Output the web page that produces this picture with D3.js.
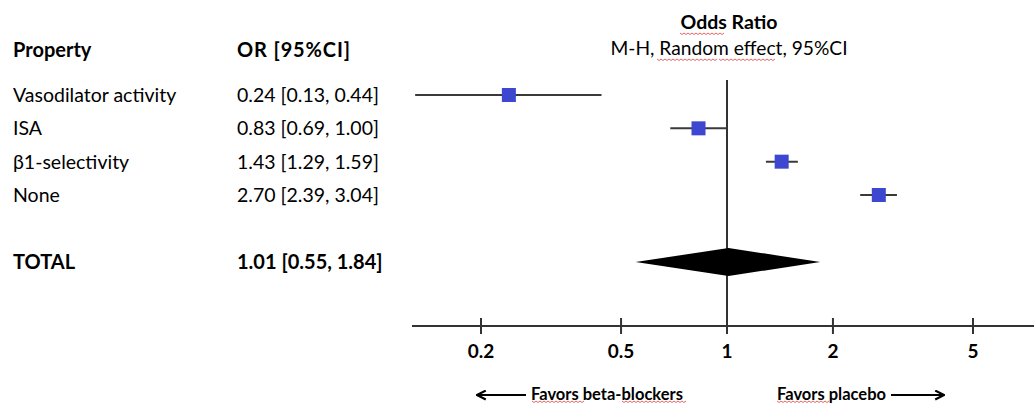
<!DOCTYPE html>
<html><head><meta charset="utf-8">
<script src="https://cdn.jsdelivr.net/npm/d3@7"></script>
<style>
body{margin:0;background:#fff;}
svg{display:block;font-family:Lato,"Open Sans",sans-serif;}
</style></head>
<body><svg id="c" width="1034" height="403"></svg>
<script>
const properties = ["Vasodilator activity","ISA","β1-selectivity","None"];
const orValues = [0.24,0.83,1.43,2.70];
const ciLow = [0.13,0.69,1.29,2.39];
const ciHigh = [0.44,1.00,1.59,3.04];
const totalLabel = "TOTAL";
const totalOR = 1.01, totalLow = 0.55, totalHigh = 1.84;
const tickValues = [0.2,0.5,1,2,5];
const tickLabels = ["0.2","0.5","1","2","5"];

const svg = d3.select("#c");
const x = d3.scaleLog().domain([0.2,5]).range([481,973]);
const rowY = d3.scalePoint().domain(properties).range([95,195]);
const totalY = 262;
const axisY = 326;
const fmt = d3.format(".2f");
const blue = "#3D47CF";
const fs = 19.5, fsb = 20;

// headers
svg.append("text").attr("x",13).attr("y",57).attr("font-size",fsb).attr("font-weight","bold").text("Property");
svg.append("text").attr("x",237).attr("y",57).attr("font-size",fsb).attr("font-weight","bold").attr("textLength",113).text("OR [95%CI]");
svg.append("text").attr("x",729).attr("y",29).attr("text-anchor","middle").attr("font-size",19.5).attr("font-weight","bold").text("Odds Ratio");
svg.append("text").attr("x",729).attr("y",55).attr("text-anchor","middle").attr("font-size",19.2).text("M-H, Random effect, 95%CI");

// spell-check squiggles
function squiggle(x0,x1,y){
  let d=`M${x0},${y}`;
  for(let xx=x0;xx<x1;xx+=4){d+=` l2,1.5 l2,-1.5`;}
  svg.append("path").attr("d",d).attr("fill","none").attr("stroke","#e04040").attr("stroke-width",0.8);
}
squiggle(680,722,33);
squiggle(657,714,59);
squiggle(719,775,59);
squiggle(532,582,401);
squiggle(622,683,401);
squiggle(777,827,401);

// row labels
properties.forEach((p,i)=>{
  const y = rowY(p);
  svg.append("text").attr("x",13).attr("y",y+7).attr("font-size",fs).text(p);
  svg.append("text").attr("x",237).attr("y",y+7).attr("font-size",fs)
    .text(`${fmt(orValues[i])} [${fmt(ciLow[i])}, ${fmt(ciHigh[i])}]`);
});
svg.append("text").attr("x",13).attr("y",totalY+7).attr("font-size",fsb).attr("font-weight","bold").text(totalLabel);
svg.append("text").attr("x",237).attr("y",totalY+7).attr("font-size",fsb).attr("font-weight","bold")
  .text(`${fmt(totalOR)} [${fmt(totalLow)}, ${fmt(totalHigh)}]`);

// reference line at 1
svg.append("line").attr("x1",x(1)).attr("x2",x(1)).attr("y1",80).attr("y2",axisY+7)
  .attr("stroke","#333").attr("stroke-width",2);

// CI lines and squares
properties.forEach((p,i)=>{
  const y = rowY(p);
  svg.append("line").attr("x1",x(ciLow[i])).attr("x2",x(ciHigh[i])).attr("y1",y).attr("y2",y)
    .attr("stroke","#3a3a3a").attr("stroke-width",2);
  svg.append("rect").attr("x",x(orValues[i])-7).attr("y",y-7).attr("width",14).attr("height",14)
    .attr("fill",blue);
});

// diamond
svg.append("path")
  .attr("d",`M${x(totalLow)},${totalY} L${x(totalOR)},${totalY-14} L${x(totalHigh)},${totalY} L${x(totalOR)},${totalY+14} Z`)
  .attr("fill","#000");

// axis
const axis = d3.axisBottom(x).tickValues(tickValues).tickFormat((d,i)=>tickLabels[i]).tickSize(0).tickPadding(0);
const g = svg.append("g").attr("transform",`translate(0,${axisY})`).call(axis);
g.select(".domain").remove();
g.selectAll(".tick text").remove();
svg.append("line").attr("x1",412).attr("x2",1034).attr("y1",axisY).attr("y2",axisY).attr("stroke","#333").attr("stroke-width",2);
tickValues.forEach((v,i)=>{
  svg.append("line").attr("x1",x(v)).attr("x2",x(v)).attr("y1",axisY-8).attr("y2",axisY+8).attr("stroke","#333").attr("stroke-width",2);
  svg.append("text").attr("x",x(v)).attr("y",358).attr("text-anchor","middle").attr("font-size",19).attr("font-weight","bold").text(tickLabels[i]);
});

// favors arrows
svg.append("defs").append("marker").attr("id","ah").attr("viewBox","0 0 10 10").attr("refX",9).attr("refY",5)
  .attr("markerWidth",5).attr("markerHeight",5).attr("orient","auto-start-reverse")
  .append("path").attr("d","M1,1 L9,5 L1,9").attr("fill","none").attr("stroke","#000").attr("stroke-width",2);
svg.append("line").attr("x1",526).attr("x2",477).attr("y1",395).attr("y2",395).attr("stroke","#000").attr("stroke-width",2.2).attr("marker-end","url(#ah)");
svg.append("text").attr("x",531).attr("y",400).attr("font-size",16.5).attr("font-weight","bold").text("Favors beta-blockers");
svg.append("text").attr("x",777).attr("y",400).attr("font-size",16.5).attr("font-weight","bold").text("Favors placebo");
svg.append("line").attr("x1",891).attr("x2",944).attr("y1",395).attr("y2",395).attr("stroke","#000").attr("stroke-width",2.2).attr("marker-end","url(#ah)");
</script></body></html>
